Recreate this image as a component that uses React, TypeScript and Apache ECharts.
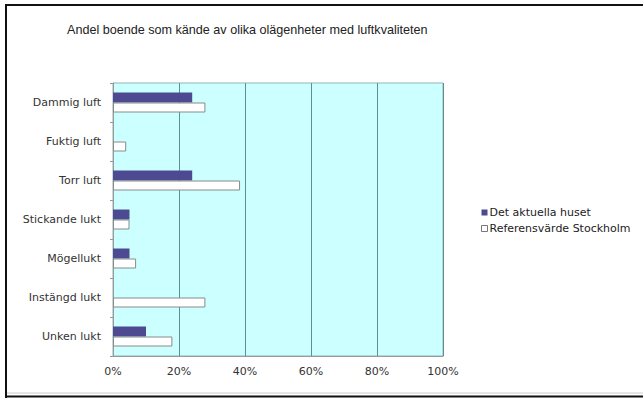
import React, { useEffect, useRef } from "react";
import * as echarts from "echarts";

const categories = ["Dammig luft", "Fuktig luft", "Torr luft", "Stickande lukt", "Mögellukt", "Instängd lukt", "Unken lukt"];
const seriesNames = ["Det aktuella huset", "Referensvärde Stockholm"];
const huset = [24, 0, 24, 5, 5, 0, 10];
const stockholm = [28, 4, 38.5, 5, 7, 28, 18];
const xTicks = [0, 20, 40, 60, 80, 100];

export default function App() {
  const ref = useRef<HTMLDivElement>(null);
  useEffect(() => {
    if (!ref.current) return;
    const chart = echarts.init(ref.current, undefined, { renderer: "svg" });
    const font = "'Liberation Sans', Arial, sans-serif";
    const wide = "'DejaVu Sans', sans-serif";
    chart.setOption({
      animation: false,
      backgroundColor: "#ffffff",
      textStyle: { fontFamily: font },
      title: {
        text: "Andel boende som kände av olika olägenheter med luftkvaliteten",
        left: 62,
        top: 18,
        textStyle: { fontSize: 12.6, fontWeight: "normal", color: "#222", fontFamily: font },
      },
      legend: {
        orient: "vertical",
        left: 476,
        top: 202,
        itemWidth: 6,
        itemHeight: 6,
        itemGap: 5,
        icon: "rect",
        textStyle: { fontSize: 11, color: "#222", fontFamily: wide, padding: [0, 0, 0, -3] },
        data: [
          { name: seriesNames[0], itemStyle: { color: "#4d4a92", borderColor: "#4d4a92" } },
          { name: seriesNames[1], itemStyle: { color: "#ffffff", borderColor: "#777", borderWidth: 1 } },
        ],
      },
      grid: {
        left: 113,
        right: 200,
        top: 83,
        bottom: 42,
        show: true,
        backgroundColor: "#ccffff",
        borderColor: "#8fb5b5",
        borderWidth: 1,
      },
      xAxis: {
        type: "value",
        min: 0,
        max: 100,
        interval: 20,
        axisLabel: {
          formatter: (v: number) => (xTicks.includes(v) ? v + "%" : ""),
          fontSize: 11,
          color: "#333",
          margin: 10,
          fontFamily: wide,
        },
        axisLine: { show: true, lineStyle: { color: "#999" } },
        axisTick: { show: false },
        splitLine: { show: true, lineStyle: { color: "#5f8f8f", width: 1 } },
      },
      yAxis: {
        type: "category",
        data: categories,
        inverse: true,
        axisLabel: { fontSize: 11, color: "#333", margin: 12, fontFamily: wide },
        axisLine: { show: true, lineStyle: { color: "#999" } },
        axisTick: { show: true, length: 3, inside: false, lineStyle: { color: "#999" } },
        splitLine: { show: false },
      },
      series: [
        {
          name: seriesNames[0],
          type: "bar",
          data: huset,
          barWidth: 10,
          barGap: "0%",
          itemStyle: { color: "#4d4a92", borderWidth: 0 },
        },
        {
          name: seriesNames[1],
          type: "bar",
          data: stockholm,
          barWidth: 10,
          barGap: "0%",
          itemStyle: { color: "#ffffff", borderColor: "#8a8a8a", borderWidth: 1 },
        },
      ],
      graphic: [
        { type: "line", shape: { x1: 5, y1: 5, x2: 643, y2: 5 }, style: { stroke: "#111", lineWidth: 2 } },
        { type: "line", shape: { x1: 6, y1: 4, x2: 6, y2: 398 }, style: { stroke: "#111", lineWidth: 2 } },
        { type: "line", shape: { x1: 5, y1: 396.5, x2: 643, y2: 396.5 }, style: { stroke: "#111", lineWidth: 2 } },
        { type: "line", shape: { x1: 7, y1: 393, x2: 643, y2: 393 }, style: { stroke: "#ccc", lineWidth: 1 } },
      ],
    });
    return () => chart.dispose();
  }, []);
  return <div ref={ref} style={{ position: "fixed", left: 0, top: 0, width: 643, height: 398 }} />;
}
